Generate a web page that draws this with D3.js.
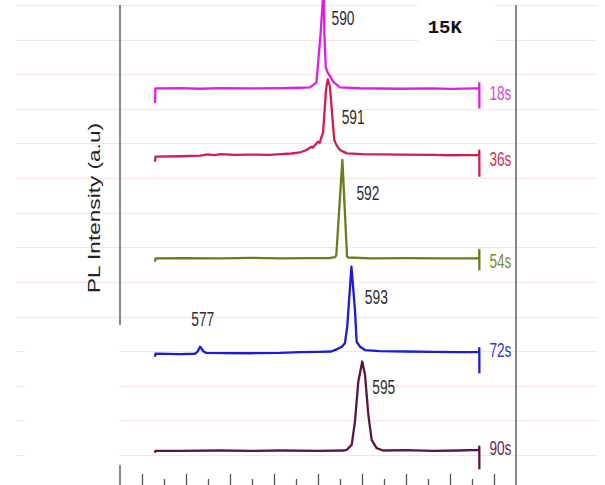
<!DOCTYPE html>
<html lang="en">
<head>
<meta charset="UTF-8">
<title>PL spectra 15K</title>
<script src="https://cdnjs.cloudflare.com/ajax/libs/d3/7.8.5/d3.min.js"></script>
<style>
body{margin:0;background:#fff;}
svg{display:block;}
.grid line{stroke:#f8e4e2;stroke-width:1;}
.frame{stroke:#747474;stroke-width:1.7;}
.trace{fill:none;stroke-width:2.3;stroke-linejoin:round;}
.ticks line{stroke:#555;stroke-width:1.3;}
.ticks path{display:none;}
.peak-label,.time-label{font-family:"Liberation Sans Narrow","Liberation Sans",Arial,sans-serif;font-size:19.5px;}
.peak-label{fill:#2e2e2e;}
.ylabel{font-family:"Liberation Sans",Arial,sans-serif;font-size:17px;fill:#222;}
.temp{font-family:"Liberation Mono","Courier New",monospace;font-size:19px;font-weight:bold;fill:#111;}
</style>
</head>
<body>
<div id="chart"></div>
<script>
// growth times and peak positions (nm)
var times = ["18s", "36s", "54s", "72s", "90s"];
var peakLabels = ["590", "591", "592", "593", "595"];
var offsets = [105.9, 86.5, 56.8, 29.6, 1.2];   // vertical stacking of each spectrum (a.u.)
var sideLabel = "577";                          // weak peak in the 72s spectrum
var sideLabelWl = 576.6;

// spectra: [wavelength nm, intensity a.u. above own baseline]
var spec18 = [[571.48,-4.25],[571.53,0],[574.3,0.1],[576.6,-0.1],[578.9,0.1],[582.3,0],[585.7,0.1],[588.0,0.2],[589.09,0.29],[589.43,0.95],[589.82,1.62],[590.30,15.98],[590.58,26.95],[590.66,26.95],[590.72,15.98],[590.88,6.24],[591.06,4.80],[591.36,3.55],[591.74,1.91],[592.50,0.29],[594.8,0.05],[599.3,-0.1],[603.0,0],[605.0,-0.15],[607.8,0],[608.30,0],[608.33,1.44],[608.34,-5.78]];
var spec36 = [[571.48,-1.79],[571.53,-0.3],[574.3,-0.2],[576.6,0],[577.5,0.35],[578.2,0.1],[579.0,0.4],[580.5,0.2],[582.3,0.3],[584.5,0.2],[585.7,0.4],[587.0,0.6],[587.95,0.9],[588.7,1.6],[589.27,2.6],[589.4,2.3],[590.0,4.0],[590.2,3.7],[590.4,5.4],[590.57,6.5],[590.91,18.92],[591.1,22.01],[591.36,19.88],[591.63,11.21],[591.85,4.48],[592.1,3.03],[592.5,1.59],[593.26,0.64],[595.0,0.4],[599.3,0.3],[603.0,0.2],[605.0,0.1],[608.30,0.2],[608.33,1.39],[608.34,-6.12]];
var spec54 = [[571.48,-0.92],[571.53,0],[574.3,0.1],[578.9,0],[582.3,0.15],[585.7,0],[589.0,0.1],[591.2,0.1],[591.93,0.35],[592.08,0.9],[592.77,28.46],[593.3,0.5],[593.45,0.25],[596.0,0],[600.0,0.1],[604.0,0],[608.30,0],[608.33,2.46],[608.34,-3.47]];
var spec72 = [[571.48,-1.21],[571.53,-0.3],[574.3,-0.43],[576.0,-0.35],[576.3,0.2],[576.6,1.68],[577.0,0.3],[577.3,-0.1],[579.5,-0.15],[582.3,-0.2],[585.7,-0.1],[588.0,0.1],[590.0,0.2],[591.5,0.3],[592.12,0.92],[592.7,1.68],[593.06,2.66],[593.32,7.45],[593.8,24.79],[594.2,12.28],[594.39,3.12],[594.77,1.68],[595.34,0.72],[597.0,0.4],[600.0,0.3],[603.0,0.2],[606.0,0.1],[608.30,0.1],[608.33,1.30],[608.34,-6.01]];
var spec90 = [[571.48,-0.58],[571.53,0],[574.3,0],[578.9,0.1],[582.3,0],[585.7,0.1],[590.0,0],[593.0,0.1],[593.26,0.3],[593.83,1.73],[594.2,8.46],[594.58,20.02],[595.03,25.80],[595.34,21.96],[595.72,10.40],[596.1,3.18],[596.66,0.78],[597.4,0.1],[600.0,0.2],[603.0,0],[606.0,0.1],[608.30,0.29],[608.33,1.24],[608.34,-5.29]];
var spectra = [spec18, spec36, spec54, spec72, spec90];

var majorTicks = [570, 575, 580, 585, 590, 595, 600, 605, 610];
var minorTicks = [572.5, 577.5, 582.5, 587.5, 592.5, 597.5, 602.5, 607.5];
var gridValues = [0, 10, 20, 30, 40, 50, 60, 70, 80, 90, 100, 110, 120, 130];

// styling
var lineColors = ["#e01ee0", "#d01e4e", "#6e7a1c", "#1c1cd6", "#5c1444"];
var textColors = ["#d54bd5", "#cc3358", "#7b8b3a", "#3535d0", "#682a55"];
var peakNudge = [[8.4, 23], [14, 37.4], [14, 32.7], [13.4, 30.6], [10, 25]];
var timeNudge = [4.9, 3.7, 2.3, -2.5, -2.5];

var W = 605, H = 485;
var svg = d3.select("#chart").append("svg").attr("width", W).attr("height", H);

var x = d3.scaleLinear().domain([567.5, 612.5]).range([120, 516]);
var y = d3.scaleLinear().domain([0, 130]).range([455, 5]);

// faint background grid
svg.append("g").attr("class", "grid")
  .selectAll("line").data(gridValues).enter().append("line")
  .attr("x1", 16).attr("x2", 597)
  .attr("y1", function(d){ return Math.round(y(d)) + 0.5; })
  .attr("y2", function(d){ return Math.round(y(d)) + 0.5; });

// white patches as in the source figure
svg.append("rect").attr("x", 25).attr("y", 321).attr("width", 94).attr("height", 145).attr("fill", "#fff");
svg.append("rect").attr("x", 418).attr("y", 0).attr("width", 77).attr("height", 65).attr("fill", "#fff");

// frame lines
svg.append("line").attr("class", "frame")
  .attr("x1", x(567.5)).attr("x2", x(567.5)).attr("y1", 5).attr("y2", 325);
svg.append("line").attr("class", "frame")
  .attr("x1", x(567.5)).attr("x2", x(567.5)).attr("y1", 465).attr("y2", H);
svg.append("line").attr("class", "frame")
  .attr("x1", x(612.5)).attr("x2", x(612.5)).attr("y1", 5).attr("y2", H);

// bottom ticks
svg.append("g").attr("class", "ticks").attr("transform", "translate(0,487)")
  .call(d3.axisTop(x).tickValues(majorTicks).tickSize(13).tickFormat(""));
svg.append("g").attr("class", "ticks").attr("transform", "translate(0,487)")
  .call(d3.axisTop(x).tickValues(minorTicks).tickSize(8).tickFormat(""));

// spectra
spectra.forEach(function(spec, i){
  var line = d3.line()
    .x(function(d){ return x(d[0]); })
    .y(function(d){ return y(offsets[i] + d[1]); });
  svg.append("path").attr("class", "trace")
    .attr("d", line(spec))
    .attr("stroke", lineColors[i]);

  var top = d3.greatest(spec, function(d){ return d[1]; });
  svg.append("text").attr("class", "peak-label")
    .attr("x", x(top[0]) + peakNudge[i][0])
    .attr("y", y(offsets[i] + top[1]) + peakNudge[i][1] + 7)
    .attr("textLength", 23).attr("lengthAdjust", "spacingAndGlyphs")
    .text(peakLabels[i]);

  var last = spec[spec.length - 1];
  svg.append("text").attr("class", "time-label")
    .attr("x", x(last[0]) + 10)
    .attr("y", y(offsets[i]) + timeNudge[i] + 7)
    .attr("fill", textColors[i])
    .attr("textLength", 22).attr("lengthAdjust", "spacingAndGlyphs")
    .text(times[i]);
});

// weak 577 nm feature in the 72s spectrum
var side = spec72.filter(function(d){ return d[0] === sideLabelWl; })[0];
svg.append("text").attr("class", "peak-label")
  .attr("x", x(side[0]) + 2.7)
  .attr("y", y(offsets[3] + side[1]) - 27.7 + 7)
  .attr("text-anchor", "middle")
  .attr("textLength", 23).attr("lengthAdjust", "spacingAndGlyphs")
  .text(sideLabel);

// y label
svg.append("text").attr("class", "ylabel")
  .attr("transform", "translate(100,293) rotate(-90)")
  .attr("textLength", 170).attr("lengthAdjust", "spacingAndGlyphs")
  .text("PL Intensity (a.u)");

svg.append("text").attr("class", "temp")
  .attr("x", 427.7).attr("y", 33.3)
  .text("15K");
</script>
</body>
</html>
